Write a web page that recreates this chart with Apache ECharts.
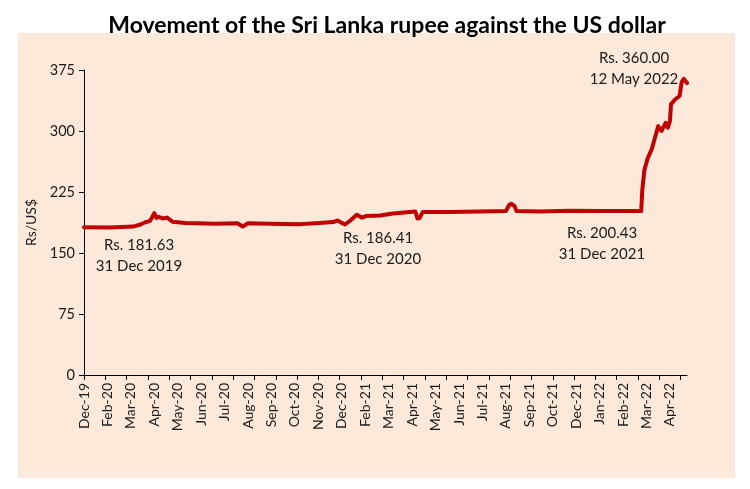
<!DOCTYPE html>
<html>
<head>
<meta charset="utf-8">
<script src="https://cdn.jsdelivr.net/npm/echarts@6/dist/echarts.min.js"></script>
<style>
html,body{margin:0;padding:0;background:#fff;}
#chart{width:750px;height:489px;}
</style>
</head>
<body>
<div id="chart"></div>
<script>
// Trading-day axis: 567 days from 31 Dec 2019 to 12 May 2022
const dayCount = 567;
const labelEvery = 22;
const tickEvery = 20;
const monthLabels = ['Dec-19','Feb-20','Mar-20','Apr-20','May-20','Jun-20','Jul-20','Aug-20','Sep-20','Oct-20','Nov-20','Dec-20','Feb-21','Mar-21','Apr-21','May-21','Jun-21','Jul-21','Aug-21','Sep-21','Oct-21','Dec-21','Jan-22','Feb-22','Mar-22','Apr-22'];
const yTicks = [0, 75, 150, 225, 300, 375];

// Readings of the rupee rate (Rs per US$) at trading-day positions
const dayIndex = [0,24,46,53,57,62,64,66,68,70,74,78,83,95,106,123,144,149,154,174,203,221,234,238,242,245,250,256,261,265,278,290,306,311,313,315,318,343,371,396,399,401,404,406,428,456,484,503,523,
  524,526,529,533,536,539,542,546,548,550,551,555,559,561,563,566];
const rupeePerUSD = [181.63,181.5,182.5,185,187.5,189.5,194,199,193,194.5,192.5,193.5,188.5,187,186.5,186,186.5,182.5,186.5,186,185.5,187,188,190,187,185,190,197,193.5,195.5,196,198.5,200.5,201,192.5,193,200.5,200.5,201,201.5,209,210.5,208,201.5,201,202,201.5,201.5,201.5,
  227,252,266,278,292,306,300,310,304,312,333,339,343,360,364,359];

const notes = [
  {text: 'Rs. 181.63\n31 Dec 2019', x: 139, y: 256},
  {text: 'Rs. 186.41\n31 Dec 2020', x: 378, y: 249},
  {text: 'Rs. 200.43\n31 Dec 2021', x: 602, y: 244},
  {text: 'Rs. 360.00\n12 May 2022', x: 634, y: 69}
];

const categories = Array.from({length: dayCount}, (_, i) => String(i));
const seriesData = dayIndex.map((d, i) => [d, rupeePerUSD[i]]);
const font = 'Lato, "Open Sans", sans-serif';

const chart = echarts.init(document.getElementById('chart'), null, {renderer: 'canvas'});
chart.setOption({
  backgroundColor: '#ffffff',
  animation: false,
  title: {
    text: 'Movement of the Sri Lanka rupee against the US dollar',
    left: 382, top: 9, textAlign: 'center',
    textStyle: {fontFamily: font, fontWeight: 'bold', fontSize: 23, color: '#000'}
  },
  graphic: [
    {type: 'rect', z: -10, silent: true, shape: {x: 18, y: 33, width: 717, height: 445}, style: {fill: '#FDE9D9'}}
  ].concat(notes.map(n => ({
    type: 'text', z: 10, x: n.x, y: n.y,
    style: {text: n.text, fontFamily: font, fontSize: 15, fill: '#1a1a1a', align: 'center', verticalAlign: 'middle', lineHeight: 21}
  }))),
  grid: {left: 84, top: 70, right: 63, bottom: 114, containLabel: false},
  xAxis: {
    type: 'category',
    data: categories,
    boundaryGap: false,
    axisLine: {lineStyle: {color: '#000', width: 1}},
    axisTick: {interval: tickEvery - 1, length: 5, lineStyle: {color: '#000'}},
    axisLabel: {
      interval: labelEvery - 1, rotate: 90, margin: 8,
      fontFamily: font, fontSize: 14, color: '#1a1a1a',
      formatter: (v, idx) => (idx % labelEvery === 0 ? (monthLabels[idx / labelEvery] || '') : '')
    },
    splitLine: {show: false}
  },
  yAxis: {
    type: 'value',
    min: yTicks[0], max: yTicks[yTicks.length - 1], interval: 75,
    name: 'Rs/US$', nameLocation: 'middle', nameGap: 44, nameRotate: 90,
    nameTextStyle: {fontFamily: font, fontSize: 14, color: '#1a1a1a'},
    axisLine: {show: true, lineStyle: {color: '#000', width: 1}},
    axisTick: {show: true, length: 5, lineStyle: {color: '#000'}},
    axisLabel: {fontFamily: font, fontSize: 14.5, color: '#1a1a1a', margin: 9},
    splitLine: {show: false}
  },
  series: [{
    type: 'line',
    data: seriesData,
    showSymbol: false,
    symbol: 'none',
    lineStyle: {color: '#C00000', width: 4, join: 'round', cap: 'round'},
    itemStyle: {color: '#C00000'}
  }]
});
</script>
</body>
</html>
